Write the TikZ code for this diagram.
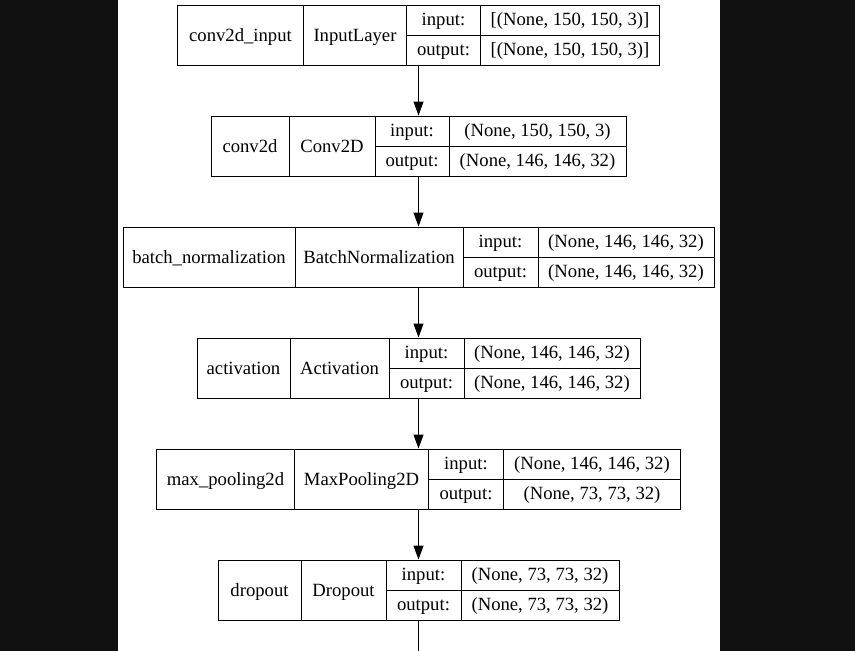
\documentclass[tikz,border=0pt]{standalone}
\usepackage{fontspec}
\setmainfont{Liberation Serif}
\usepackage{tikz}
\usetikzlibrary{arrows.meta}
\definecolor{cBack}{HTML}{111111}
\tikzset{
  layer/.style={rectangle,draw=black,line width=1pt,inner sep=0pt,minimum height=60pt},
  cell/.style={rectangle,draw=black,line width=1pt,inner sep=0pt,font=\fontsize{18.67}{22}\selectfont},
  tall/.style={minimum height=60pt,text height=14pt,text depth=1pt},
  half/.style={minimum height=30pt,text height=13pt,text depth=3pt},
  arr/.style={-{Triangle[length=14pt,width=10pt]},line width=1pt,black},
  lnk/.style={line width=1pt,black},
}

\begin{document}
\begin{tikzpicture}[x=1pt,y=-1pt]
  \useasboundingbox (0,0) rectangle (855,651);
  \fill[cBack] (0,0) rectangle (855,651);
  \fill[white] (118,0) rectangle (720,651);
  % layer 1: conv2d_input
  \node[layer,minimum width=482pt] (inp) at (418.5,35) {};
  \node[cell,tall,minimum width=126pt] (inpName) at (240.5,35) {conv2d\_input};
  \node[cell,tall,minimum width=103pt] (inpCls) at (355,35) {InputLayer};
  \node[cell,half,minimum width=74pt] (inpInL) at (443.5,20) {input:};
  \node[cell,half,minimum width=74pt] (inpOutL) at (443.5,50) {output:};
  \node[cell,half,minimum width=179pt] (inpInV) at (570,20) {[(None, 150, 150, 3)]};
  \node[cell,half,minimum width=179pt] (inpOutV) at (570,50) {[(None, 150, 150, 3)]};
  % layer 2: conv2d
  \node[layer,minimum width=415pt] (conv) at (418.5,146) {};
  \node[cell,tall,minimum width=78pt] (convName) at (250,146) {conv2d};
  \node[cell,tall,minimum width=86pt] (convCls) at (332,146) {Conv2D};
  \node[cell,half,minimum width=74pt] (convInL) at (412,131) {input:};
  \node[cell,half,minimum width=74pt] (convOutL) at (412,161) {output:};
  \node[cell,half,minimum width=177pt] (convInV) at (537.5,131) {(None, 150, 150, 3)};
  \node[cell,half,minimum width=177pt] (convOutV) at (537.5,161) {(None, 146, 146, 32)};
  % layer 3: batch_normalization
  \node[layer,minimum width=591pt] (bn) at (418.5,257) {};
  \node[cell,tall,minimum width=172pt] (bnName) at (209,257) {batch\_normalization};
  \node[cell,tall,minimum width=168pt] (bnCls) at (379,257) {BatchNormalization};
  \node[cell,half,minimum width=75pt] (bnInL) at (500.5,242) {input:};
  \node[cell,half,minimum width=75pt] (bnOutL) at (500.5,272) {output:};
  \node[cell,half,minimum width=176pt] (bnInV) at (626,242) {(None, 146, 146, 32)};
  \node[cell,half,minimum width=176pt] (bnOutV) at (626,272) {(None, 146, 146, 32)};
  % layer 4: activation
  \node[layer,minimum width=443pt] (act) at (418.5,368) {};
  \node[cell,tall,minimum width=93pt] (actName) at (243.5,368) {activation};
  \node[cell,tall,minimum width=99pt] (actCls) at (339.5,368) {Activation};
  \node[cell,half,minimum width=75pt] (actInL) at (426.5,353) {input:};
  \node[cell,half,minimum width=75pt] (actOutL) at (426.5,383) {output:};
  \node[cell,half,minimum width=176pt] (actInV) at (552,353) {(None, 146, 146, 32)};
  \node[cell,half,minimum width=176pt] (actOutV) at (552,383) {(None, 146, 146, 32)};
  % layer 5: max_pooling2d
  \node[layer,minimum width=524pt] (pool) at (418.5,479) {};
  \node[cell,tall,minimum width=138pt] (poolName) at (225.5,479) {max\_pooling2d};
  \node[cell,tall,minimum width=134pt] (poolCls) at (361.5,479) {MaxPooling2D};
  \node[cell,half,minimum width=75pt] (poolInL) at (466,464) {input:};
  \node[cell,half,minimum width=75pt] (poolOutL) at (466,494) {output:};
  \node[cell,half,minimum width=177pt] (poolInV) at (592,464) {(None, 146, 146, 32)};
  \node[cell,half,minimum width=177pt] (poolOutV) at (592,494) {(None, 73, 73, 32)};
  % layer 6: dropout
  \node[layer,minimum width=401pt] (drop) at (418.5,590) {};
  \node[cell,tall,minimum width=83pt] (dropName) at (259.5,590) {dropout};
  \node[cell,tall,minimum width=85pt] (dropCls) at (343.5,590) {Dropout};
  \node[cell,half,minimum width=75pt] (dropInL) at (423.5,575) {input:};
  \node[cell,half,minimum width=75pt] (dropOutL) at (423.5,605) {output:};
  \node[cell,half,minimum width=158pt] (dropInV) at (540,575) {(None, 73, 73, 32)};
  \node[cell,half,minimum width=158pt] (dropOutV) at (540,605) {(None, 73, 73, 32)};
  % links
  \coordinate (next) at (418.5,651);
  \draw[arr] (inp) -- (conv);
  \draw[arr] (conv) -- (bn);
  \draw[arr] (bn) -- (act);
  \draw[arr] (act) -- (pool);
  \draw[arr] (pool) -- (drop);
  \draw[lnk] (drop) -- (next);
\end{tikzpicture}
\end{document}
